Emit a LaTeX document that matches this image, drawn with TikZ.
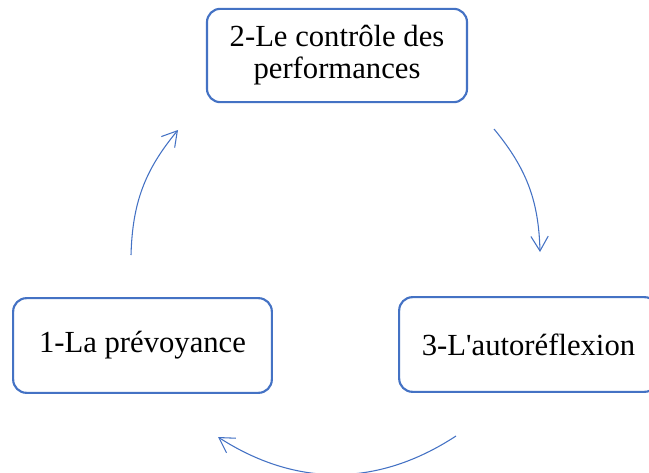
\documentclass[tikz,border=0pt]{standalone}
\usepackage{fontspec}
\setmainfont{Liberation Serif}[Ligatures=TeXOff]
\usetikzlibrary{arrows.meta}
\definecolor{accent}{RGB}{68,114,196}
\begin{document}
\begin{tikzpicture}[x=0.75pt,y=0.75pt,
  stage/.style={draw=accent,line width=1.6pt,rounded corners=10pt,fill=white,
    align=center,inner sep=0pt,font=\fontsize{23}{24}\selectfont},
  cycle/.style={draw=accent,line width=0.8pt,
    -{Straight Barb[length=11pt,width=13pt,line width=0.8pt]}}]
  \useasboundingbox (0,0) rectangle (649,472);
  \clip (0,0) rectangle (649,472);
  % the three stages
  \node[stage,minimum width=195pt,minimum height=70pt] (perf) at (337,416.5)
    {2-Le contrôle des\\performances};
  \node[stage,minimum width=194pt,minimum height=71pt] (prev) at (142.5,126.5)
    {1-La prévoyance};
  \node[stage,minimum width=194pt,minimum height=71pt] (auto) at (528.5,127.5)
    {3-L'autoréflexion};
  % arc ends
  \coordinate (l1) at (131,217);
  \coordinate (l2) at (178,342);
  \coordinate (r1) at (494,343);
  \coordinate (r2) at (540,220);
  \coordinate (b1) at (456,36);
  \coordinate (b2) at (218,35);
  % cycle arrows
  \draw[cycle] (l1) to[bend left=19] (l2);
  \draw[cycle] (r1) to[bend left=19] (r2);
  \draw[cycle] (b1) to[bend left=33] (b2);
\end{tikzpicture}
\end{document}
